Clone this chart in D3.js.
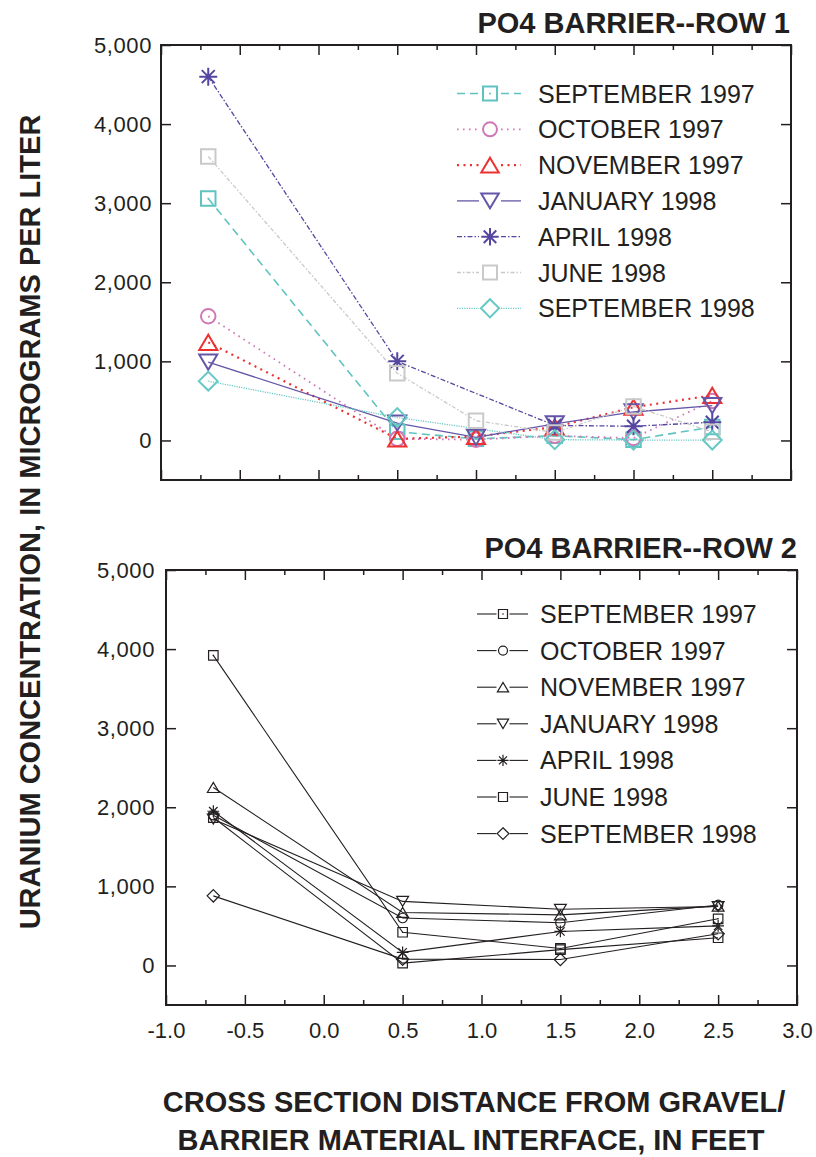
<!DOCTYPE html>
<html><head><meta charset="utf-8">
<script src="https://cdn.jsdelivr.net/npm/d3@7"></script>
<style>
body{margin:0;background:#fff}
svg{display:block}
text{font-family:"Liberation Sans",Arial,Helvetica,sans-serif;fill:#231f20}
</style>
</head><body>
<svg id="chart" width="816" height="1157"></svg>
<script>
// ---------- DATA ----------
const seriesNames = ["SEPTEMBER 1997","OCTOBER 1997","NOVEMBER 1997","JANUARY 1998","APRIL 1998","JUNE 1998","SEPTEMBER 1998"];

const row1Distance = [-0.7, 0.5, 1.0, 1.5, 2.0, 2.5];
const row1Sep1997 = [3060, 110, 20, 60, 10, 170];
const row1Oct1997 = [1570, 20, 10, 60, 30, 500];
const row1Nov1997 = [1240, 20, 50, 170, 420, 570];
const row1Jan1998 = [990, 220, 40, 210, 360, 440];
const row1Apr1998 = [4600, 1000, null, 190, 180, 230];
const row1Jun1998 = [3590, 850, 250, 100, 430, 110];
const row1Sep1998 = [750, 290, null, 10, 5, 5];

const row2Distance = [-0.7, 0.5, 1.5, 2.5];
const row2Sep1997 = [3920, 420, 215, 590];
const row2Oct1997 = [1900, 600, 540, 765];
const row2Nov1997 = [2250, 670, 640, 750];
const row2Jan1998 = [1850, 810, 710, 745];
const row2Apr1998 = [1950, 165, 430, 500];
const row2Jun1998 = [1870, 30, 200, 350];
const row2Sep1998 = [880, 80, 75, 400];

const xTickValues = [-1.0, -0.5, 0.0, 0.5, 1.0, 1.5, 2.0, 2.5, 3.0];
const xTickLabels = ["-1.0","-0.5","0.0","0.5","1.0","1.5","2.0","2.5","3.0"];
const xMinorTickValues = [-0.75, -0.25, 0.25, 0.75, 1.25, 1.75, 2.25, 2.75];
const yTickValues = [0, 1000, 2000, 3000, 4000, 5000];
const yTickLabels = ["0","1,000","2,000","3,000","4,000","5,000"];

// ---------- STYLES ----------
const row1Styles = [
  {color:"#5fc4bf", dash:"8,5", width:1.6, shape:"squareDot"},
  {color:"#cf78b6", dash:"1.6,4.4", width:1.8, shape:"circle"},
  {color:"#ee3030", dash:"2,4.5", width:2.2, shape:"triUp"},
  {color:"#6656a8", dash:null, width:1.3, shape:"triDown"},
  {color:"#5646a0", dash:"5,2,1.5,2", width:1.3, shape:"asterisk"},
  {color:"#c9c9c9", dash:"4,2,1.5,2", width:1.3, shape:"square"},
  {color:"#66c9c5", dash:"1.2,1.2", width:1.3, shape:"diamond"}
];
const row2Shapes = ["squareDot","circle","triUp","triDown","asterisk","square","diamond"];

const svg = d3.select("#chart");
const FONT = '"Liberation Sans",Arial,Helvetica,sans-serif';

function markerPath(shape, s) {
  const p = d3.path();
  if (shape === "square" || shape === "squareDot") {
    p.rect(-s/2, -s/2, s, s);
  } else if (shape === "circle") {
    p.moveTo(s/2, 0); p.arc(0, 0, s/2, 0, 2*Math.PI);
  } else if (shape === "triUp") {
    const w = s*1.25, h = s*1.05;
    p.moveTo(-w/2, h/2); p.lineTo(w/2, h/2); p.lineTo(0, -h/2); p.closePath();
  } else if (shape === "triDown") {
    const w = s*1.25, h = s*1.05;
    p.moveTo(-w/2, -h/2); p.lineTo(w/2, -h/2); p.lineTo(0, h/2); p.closePath();
  } else if (shape === "diamond") {
    const r = s*0.65;
    p.moveTo(0, -r); p.lineTo(r, 0); p.lineTo(0, r); p.lineTo(-r, 0); p.closePath();
  } else if (shape === "asterisk") {
    const r = s*0.62, d = r*0.72;
    p.moveTo(0, -r); p.lineTo(0, r);
    p.moveTo(-r, 0); p.lineTo(r, 0);
    p.moveTo(-d, -d); p.lineTo(d, d);
    p.moveTo(-d, d); p.lineTo(d, -d);
  }
  return p.toString();
}

function drawMarker(g, shape, cx, cy, s, color, sw) {
  const m = g.append("g").attr("transform", `translate(${cx},${cy})`);
  m.append("path").attr("d", markerPath(shape, s))
    .attr("fill", "none").attr("stroke", color).attr("stroke-width", sw);
  if (shape === "squareDot") {
    m.append("circle").attr("r", Math.max(0.8, s*0.07)).attr("fill", color);
  }
}

function drawPanel(cfg) {
  const g = svg.append("g");
  const x = d3.scaleLinear().domain([-1, 3]).range([cfg.left, cfg.right]);
  const y = d3.scaleLinear().domain([-500, 5000]).range([cfg.bottom, cfg.top]);

  // ticks
  function tickAxis(axis, tx, ty) {
    const a = g.append("g").attr("transform", `translate(${tx},${ty})`).call(axis);
    a.select(".domain").remove();
    a.selectAll(".tick line").attr("stroke", "#231f20").attr("stroke-width", 1.5);
    return a;
  }
  tickAxis(d3.axisBottom(x).tickValues(xMinorTickValues).tickSize(-5).tickFormat(""), 0, cfg.bottom);
  tickAxis(d3.axisTop(x).tickValues(xMinorTickValues).tickSize(-5).tickFormat(""), 0, cfg.top);
  tickAxis(d3.axisTop(x).tickValues(xTickValues).tickSize(-10).tickFormat(""), 0, cfg.top);
  const xb = tickAxis(d3.axisBottom(x).tickValues(xTickValues).tickSize(-10).tickPadding(17)
      .tickFormat((d, i) => cfg.showXLabels ? xTickLabels[i] : ""), 0, cfg.bottom);
  xb.selectAll("text").attr("font-family", FONT).attr("font-size", 22).attr("fill", "#231f20");
  const yl = tickAxis(d3.axisLeft(y).tickValues(yTickValues).tickSize(-10).tickPadding(cfg.yPad)
      .tickFormat((d, i) => yTickLabels[i]), cfg.left, 0);
  yl.selectAll("text").attr("font-family", FONT).attr("font-size", 22)
    .attr("letter-spacing", 0.6).attr("fill", "#231f20");
  tickAxis(d3.axisRight(y).tickValues(yTickValues).tickSize(-10).tickFormat(""), cfg.right, 0);

  // frame
  g.append("rect").attr("x", cfg.left).attr("y", cfg.top)
    .attr("width", cfg.right - cfg.left).attr("height", cfg.bottom - cfg.top)
    .attr("fill", "none").attr("stroke", "#231f20").attr("stroke-width", 2);

  // series lines
  const line = d3.line().x(d => x(d[0])).y(d => y(d[1]));
  cfg.series.forEach((vals, i) => {
    const st = cfg.styles[i];
    const pts = cfg.distance.map((d, j) => [d, vals[j]]).filter(p => p[1] !== null);
    g.append("path").attr("d", line(pts)).attr("fill", "none")
      .attr("stroke", st.color).attr("stroke-width", st.width)
      .attr("stroke-dasharray", st.dash);
  });
  // markers
  cfg.series.forEach((vals, i) => {
    const st = cfg.styles[i];
    cfg.distance.forEach((d, j) => {
      if (vals[j] === null) return;
      drawMarker(g, st.shape, x(d), y(vals[j]), cfg.markerSize, st.color, cfg.markerStroke);
    });
  });

  // legend
  const L = cfg.legend;
  seriesNames.forEach((name, i) => {
    const st = cfg.styles[i];
    const cy = L.y0 + i * L.dy;
    [[L.x1, L.xm - L.gap], [L.xm + L.gap, L.x2]].forEach(seg => {
      g.append("line").attr("x1", seg[0]).attr("x2", seg[1]).attr("y1", cy).attr("y2", cy)
        .attr("stroke", st.color).attr("stroke-width", st.width)
        .attr("stroke-dasharray", st.dash);
    });
    drawMarker(g, st.shape, L.xm, cy, L.markerSize, st.color, cfg.markerStroke);
    g.append("text").attr("x", L.tx).attr("y", cy + 9).attr("font-size", 25)
      .text(name);
  });

  // title
  g.append("text").attr("x", cfg.titleX).attr("y", cfg.titleY).attr("text-anchor", "end")
    .attr("font-size", 29).attr("font-weight", "bold").text(cfg.title);
}

drawPanel({
  left: 161, right: 791, top: 45, bottom: 480, yPad: 9, showXLabels: false,
  distance: row1Distance,
  series: [row1Sep1997, row1Oct1997, row1Nov1997, row1Jan1998, row1Apr1998, row1Jun1998, row1Sep1998],
  styles: row1Styles, markerSize: 14.5, markerStroke: 2,
  legend: {x1: 457, x2: 521, xm: 490, gap: 11, y0: 93.5, dy: 35.8, tx: 538, markerSize: 14},
  title: "PO4 BARRIER--ROW 1", titleX: 790, titleY: 33
});

drawPanel({
  left: 166, right: 797, top: 570, bottom: 1005, yPad: 11, showXLabels: true,
  distance: row2Distance,
  series: [row2Sep1997, row2Oct1997, row2Nov1997, row2Jan1998, row2Apr1998, row2Jun1998, row2Sep1998],
  styles: row2Shapes.map(s => ({color: "#231f20", dash: null, width: 1.1, shape: s})),
  markerSize: 9.5, markerStroke: 1.2,
  legend: {x1: 477, x2: 528, xm: 503, gap: 6.5, y0: 614, dy: 36.6, tx: 540, markerSize: 9},
  title: "PO4 BARRIER--ROW 2", titleX: 797, titleY: 558
});

// axis titles
svg.append("text").attr("transform", "translate(40,522) rotate(-90)")
  .attr("text-anchor", "middle").attr("font-size", 29).attr("font-weight", "bold")
  .text("URANIUM CONCENTRATION, IN MICROGRAMS PER LITER");
svg.append("text").attr("x", 474).attr("y", 1112).attr("text-anchor", "middle")
  .attr("font-size", 29).attr("font-weight", "bold").text("CROSS SECTION DISTANCE FROM GRAVEL/");
svg.append("text").attr("x", 471).attr("y", 1150).attr("text-anchor", "middle")
  .attr("font-size", 29).attr("font-weight", "bold").text("BARRIER MATERIAL INTERFACE, IN FEET");
</script>
</body></html>
